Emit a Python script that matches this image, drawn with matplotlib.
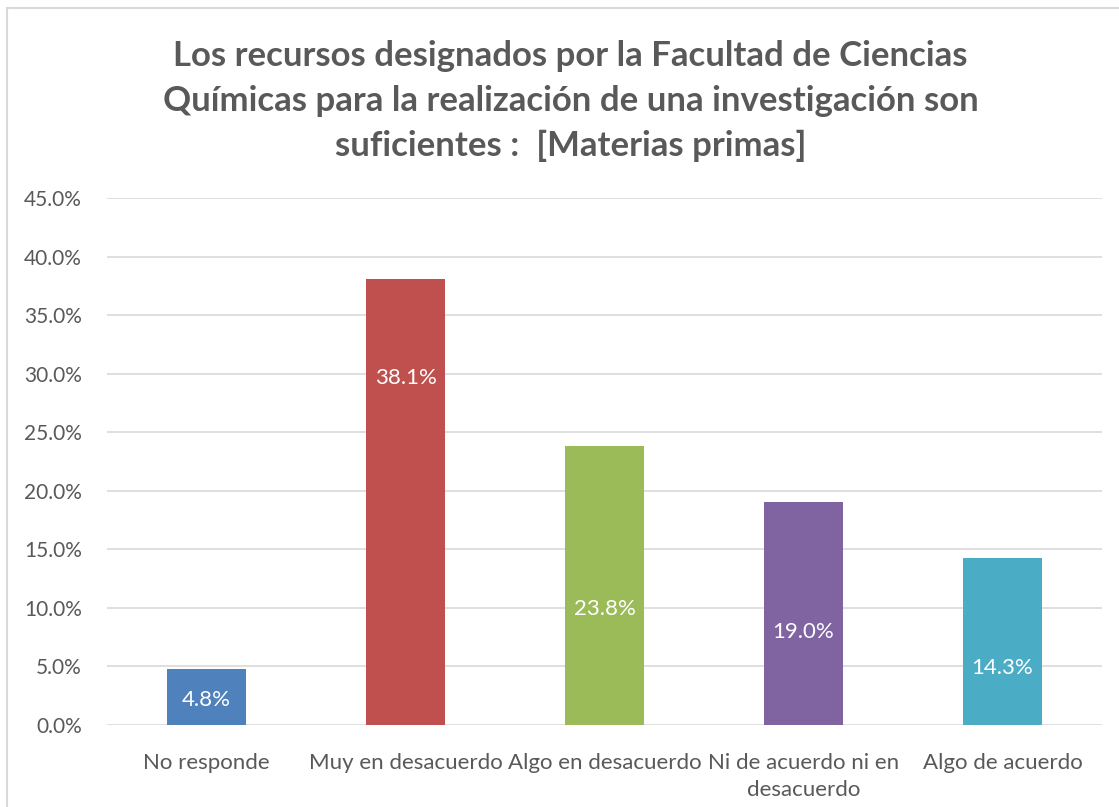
import matplotlib
matplotlib.use("Agg")
import matplotlib.pyplot as plt
from matplotlib.patches import Rectangle
from matplotlib.ticker import FuncFormatter

plt.rcParams["font.family"] = ["Lato", "DejaVu Sans"]

# Data
categories = ["No responde", "Muy en desacuerdo", "Algo en desacuerdo",
              "Ni de acuerdo ni en\ndesacuerdo", "Algo de acuerdo"]
values = [4.8, 38.1, 23.8, 19.0, 14.3]
colors = ["#4f81bd", "#c0504d", "#9bbb59", "#8064a2", "#4bacc6"]
# where the value labels sit inside each bar (in % units)
label_y = [2.1, 29.6, 9.9, 7.9, 4.9]

title = ("Los recursos designados por la Facultad de Ciencias\n"
         "Químicas para la realización de una investigación son\n"
         "suficientes :  [Materias primas]")

text_color = "#595959"
grid_color = "#d9d9d9"

fig = plt.figure(figsize=(11.19, 8.07), dpi=100)
ax = fig.add_axes([107 / 1119, 1 - 725 / 807, 995 / 1119, 527 / 807])

x = list(range(len(categories)))
ax.bar(x, values, width=0.4, color=colors, zorder=3)

for xi, v, ly in zip(x, values, label_y):
    ax.text(xi, ly, f"{v:.1f}%", ha="center", va="center",
            color="white", fontsize=16, zorder=4)

ax.set_xlim(-0.5, len(categories) - 0.5)
ax.set_ylim(0, 45)
ax.set_yticks([i * 5 for i in range(10)])
ax.yaxis.set_major_formatter(FuncFormatter(lambda v, p: f"{v:.1f}%"))
ax.set_xticks(x)
ax.set_xticklabels(categories, fontsize=16, linespacing=1.45)

ax.grid(axis="y", color=grid_color, linewidth=1.2, zorder=0)
for s in ["top", "right", "left", "bottom"]:
    ax.spines[s].set_visible(False)
ax.tick_params(axis="both", length=0, colors=text_color)
ax.tick_params(axis="y", labelsize=15, pad=18)
ax.tick_params(axis="x", pad=20)

fig.text(0.51, 1 - 101 / 807, title, ha="center", va="center",
         fontsize=25, fontweight="bold", color=text_color, linespacing=1.5)

# chart border
fig.patches.append(Rectangle((7 / 1119, -0.01), 1.1, 1 - 8 / 807 + 0.01,
                             transform=fig.transFigure, fill=False,
                             edgecolor=grid_color, linewidth=1.5))

fig.savefig("out.png", dpi=100)
